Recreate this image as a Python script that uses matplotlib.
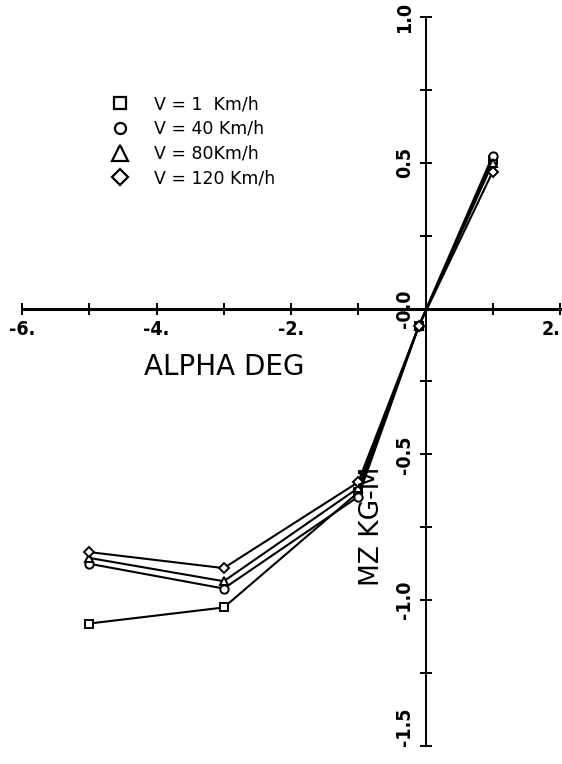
import matplotlib
matplotlib.use("Agg")
import matplotlib.pyplot as plt
from matplotlib.lines import Line2D
from matplotlib.ticker import MultipleLocator, FixedLocator, FixedFormatter

alpha = [-5.0, -3.0, -1.0, -0.1, 1.0]
mz_v1 = [-1.08, -1.025, -0.63, -0.06, 0.51]
mz_v40 = [-0.875, -0.96, -0.645, -0.06, 0.525]
mz_v80 = [-0.855, -0.935, -0.615, -0.06, 0.50]
mz_v120 = [-0.835, -0.89, -0.595, -0.06, 0.47]
series_labels = ["V = 1  Km/h", "V = 40 Km/h", "V = 80Km/h", "V = 120 Km/h"]
x_tick_vals = [-6, -4, -2, 2]
x_tick_text = ["-6.", "-4.", "-2.", "2."]
y_tick_vals = [-1.5, -1.0, -0.5, 0.0, 0.5, 1.0]
y_tick_text = ["-1.5", "-1.0", "-0.5", "-0.0", "0.5", "1.0"]

plt.rcParams['font.family'] = ['DejaVu Sans']

fig = plt.figure(figsize=(5.62, 7.64), dpi=100)
ax = fig.add_axes([22/562, 1-746/764, 538/562, 729/764])
ax.set_xlim(-6, 2)
ax.set_ylim(-1.5, 1.0)

for s in ['top', 'right']:
    ax.spines[s].set_visible(False)
ax.spines['left'].set_position(('data', 0))
ax.spines['bottom'].set_position(('data', 0))
ax.spines['left'].set_linewidth(1.4)
ax.spines['bottom'].set_linewidth(2.2)

ax.xaxis.set_major_locator(FixedLocator(x_tick_vals))
ax.xaxis.set_major_formatter(FixedFormatter(x_tick_text))
ax.xaxis.set_minor_locator(MultipleLocator(1))
ax.yaxis.set_major_locator(FixedLocator(y_tick_vals))
ax.yaxis.set_major_formatter(FixedFormatter(y_tick_text))
ax.yaxis.set_minor_locator(MultipleLocator(0.25))
ax.tick_params(which='both', direction='inout', length=9, width=1.4, color='black')
ax.tick_params(axis='x', labelsize=14, pad=4)
ax.tick_params(axis='y', labelsize=14, labelrotation=90, pad=4)
for lab in ax.get_xticklabels() + ax.get_yticklabels():
    lab.set_fontweight('bold')
    lab.set_fontstretch('condensed')
for lab in ax.get_yticklabels():
    lab.set_va('center')
ax.get_yticklabels()[0].set_va('bottom')
ax.get_xticklabels()[-1].set_ha('right')

style = dict(color='black', lw=1.5, markersize=6, markerfacecolor='white',
             markeredgecolor='black', markeredgewidth=1.4)
ax.plot(alpha, mz_v1, marker='s', **style)
ax.plot(alpha, mz_v40, marker='o', **style)
ax.plot(alpha, mz_v80, marker='^', **style)
ax.plot(alpha, mz_v120, marker='D', **dict(style, markersize=5))

ax.text(-3.0, -0.2, "ALPHA DEG", ha='center', va='center', fontsize=20)
ax.text(-0.8, -0.745, "MZ KG-M", ha='center', va='center', rotation=90, fontsize=19)

handles = [Line2D([], [], ls='none', marker=m, markersize=ms, markerfacecolor='white',
                  markeredgecolor='black', markeredgewidth=1.6)
           for m, ms in zip(['s', 'o', '^', 'D'], [8, 8, 11, 8])]
leg = ax.legend(handles, series_labels, loc='upper left', bbox_to_anchor=(0.15, 0.902),
                frameon=False, fontsize=12.5, handlelength=1.2, handletextpad=1.35,
                labelspacing=0.38, borderaxespad=0)

fig.savefig("out.png", dpi=100)
